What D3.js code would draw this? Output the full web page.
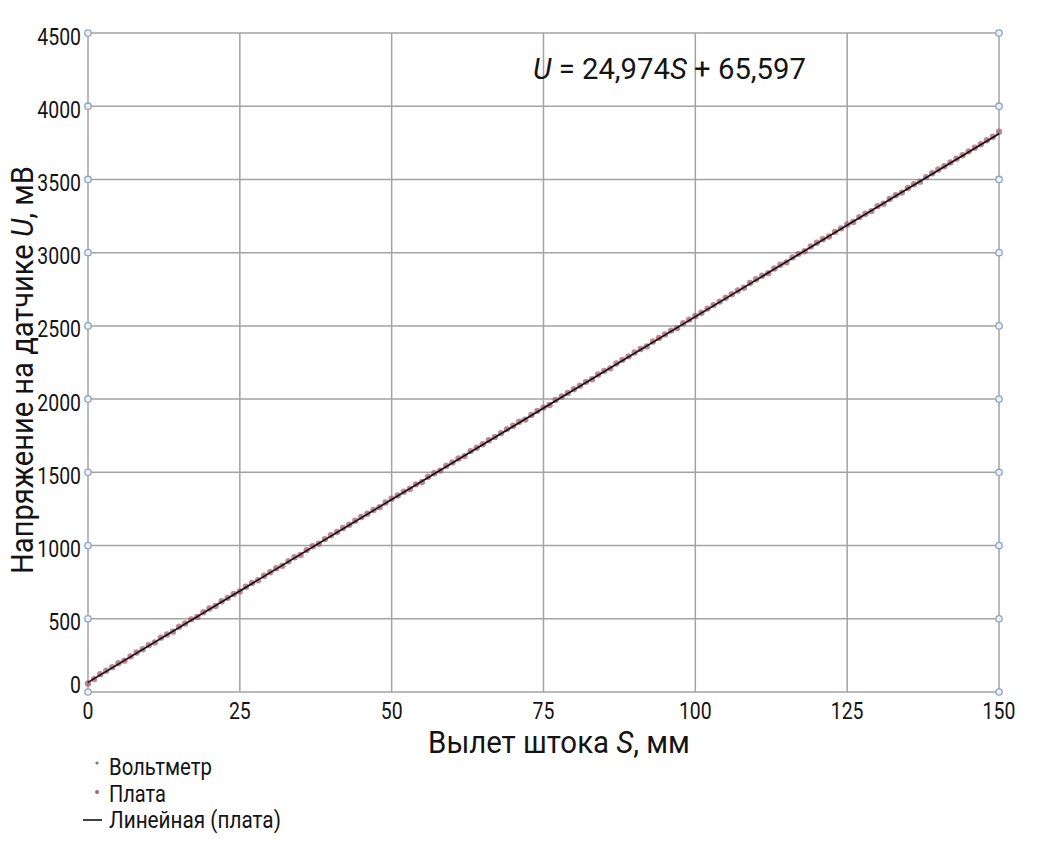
<!DOCTYPE html>
<html><head><meta charset="utf-8">
<script src="https://cdn.jsdelivr.net/npm/d3@7/dist/d3.min.js"></script>
<style>
body{margin:0;background:#fff;}
text{font-family:"Roboto","Liberation Sans",sans-serif;fill:#141414;}
</style></head><body>
<svg id="c" width="1047" height="847"></svg>
<script>
const S = [0,1,2,3,4,5,6,7,8,9,10,11,12,13,14,15,16,17,18,19,20,21,22,23,24,25,26,27,28,29,30,31,32,33,34,35,36,37,38,39,40,41,42,43,44,45,46,47,48,49,50,51,52,53,54,55,56,57,58,59,60,61,62,63,64,65,66,67,68,69,70,71,72,73,74,75,76,77,78,79,80,81,82,83,84,85,86,87,88,89,90,91,92,93,94,95,96,97,98,99,100,101,102,103,104,105,106,107,108,109,110,111,112,113,114,115,116,117,118,119,120,121,122,123,124,125,126,127,128,129,130,131,132,133,134,135,136,137,138,139,140,141,142,143,144,145,146,147,148,149,150];
const plata = [58,88,122,145,170,196,214,243,270,292,
320,338,371,393,412,446,468,496,512,545,
570,588,620,643,670,687,719,745,763,794,
818,845,862,893,920,936,969,995,1012,1044,
1070,1093,1120,1142,1170,1195,1217,1243,1262,1294,
1320,1342,1368,1386,1418,1434,1470,1494,1512,1545,
1568,1594,1611,1645,1668,1692,1719,1742,1768,1795,
1818,1845,1860,1892,1920,1942,1960,1994,2018,2042,
2068,2092,2118,2136,2168,2193,2210,2243,2268,2292,
2318,2342,2360,2393,2418,2442,2468,2485,2518,2543,
2568,2590,2618,2642,2666,2692,2716,2742,2760,2793,
2818,2842,2860,2892,2917,2934,2968,2992,3010,3042,
3068,3092,3110,3142,3166,3192,3210,3243,3266,3284,
3318,3334,3366,3392,3410,3442,3467,3485,3516,3542,
3568,3590,3616,3642,3665,3692,3716,3740,3768,3792,3826];
const voltmeter = [62,92,118,142,167,193,218,241,267,291,
317,341,367,391,415,442,466,492,515,541,
566,591,617,641,667,690,716,741,766,791,
816,841,865,891,916,940,966,991,1015,1041,
1066,1091,1116,1141,1166,1191,1216,1241,1265,1291,
1316,1340,1365,1390,1415,1440,1466,1491,1515,1541,
1565,1591,1615,1641,1665,1690,1716,1740,1765,1791,
1815,1840,1864,1890,1915,1940,1964,1990,2015,2040,
2065,2090,2115,2139,2165,2190,2214,2240,2265,2290,
2315,2340,2364,2390,2415,2440,2465,2489,2515,2540,
2565,2589,2615,2640,2664,2690,2714,2740,2764,2790,
2814,2840,2864,2890,2914,2939,2964,2990,3014,3040,
3064,3090,3114,3140,3164,3190,3214,3240,3264,3289,
3314,3339,3364,3390,3414,3440,3464,3489,3514,3540,
3564,3589,3614,3640,3664,3690,3714,3739,3764,3790,3815];
const xTicks = [0,25,50,75,100,125,150];
const yTicks = [0,500,1000,1500,2000,2500,3000,3500,4000,4500];
const trendSlope = 24.974, trendIntercept = 65.597;
const legendLabels = ["Вольтметр","Плата","Линейная (плата)"];

const svg = d3.select("#c");
const x = d3.scaleLinear().domain([0,150]).range([88,999]);
const y = d3.scaleLinear().domain([0,4500]).range([692,33]);
const grid = "#a3a3a3";

const g = svg.append("g");
g.selectAll("line.v").data(xTicks).join("line")
  .attr("x1",d=>x(d)).attr("x2",d=>x(d)).attr("y1",y(4500)).attr("y2",y(0))
  .attr("stroke",grid).attr("stroke-width",1.5);
g.selectAll("line.h").data(yTicks).join("line")
  .attr("x1",x(0)).attr("x2",x(150)).attr("y1",d=>y(d)).attr("y2",d=>y(d))
  .attr("stroke",grid).attr("stroke-width",1.5);

const pts = S.map((s,i)=>({s, p:plata[i], v:voltmeter[i]}));
g.selectAll("circle.p").data(pts).join("circle")
  .attr("cx",d=>x(d.s)).attr("cy",d=>y(d.p)).attr("r",3.2)
  .attr("fill","#a85565").attr("fill-opacity",0.7);
g.selectAll("circle.vm").data(pts).join("circle")
  .attr("cx",d=>x(d.s)).attr("cy",d=>y(d.v)).attr("r",1.3)
  .attr("fill","#6a7890").attr("fill-opacity",0.8);

g.append("line")
  .attr("x1",x(0)).attr("y1",y(trendIntercept))
  .attr("x2",x(150)).attr("y2",y(trendIntercept+trendSlope*150))
  .attr("stroke","#111").attr("stroke-width",1.6);

const mk = [];
yTicks.forEach(t=>{mk.push([0,t]);mk.push([150,t]);});
g.selectAll("circle.m").data(mk).join("circle")
  .attr("cx",d=>x(d[0])).attr("cy",d=>y(d[1])).attr("r",3.2)
  .attr("fill","#eef2f7").attr("stroke","#8ea3bd").attr("stroke-width",1.3);

function fit(sel, target){
  const w = sel.node().getComputedTextLength();
  sel.attr("transform", sel.attr("data-t") + ` scale(${target/w},1)`);
}
const SX = 0.81;
svg.selectAll("text.yt").data(yTicks).join("text")
  .attr("transform",d=>`translate(81,${d===0? y(d)+1 : y(d)+11.5}) scale(${SX},1)`)
  .attr("text-anchor","end").attr("font-size",24).text(d=>d);
svg.selectAll("text.xt").data(xTicks).join("text")
  .attr("transform",d=>`translate(${x(d)},719) scale(${SX},1)`)
  .attr("text-anchor","middle").attr("font-size",24).text(d=>d);

const xt = svg.append("text").attr("data-t","translate(559,753)").attr("text-anchor","middle").attr("font-size",31);
xt.append("tspan").text("Вылет штока ");
xt.append("tspan").attr("font-style","italic").text("S");
xt.append("tspan").text(", мм");
fit(xt, 262);

const yt = svg.append("text").attr("data-t","translate(33,370) rotate(-90)").attr("text-anchor","middle").attr("font-size",31);
yt.append("tspan").text("Напряжение на датчике ");
yt.append("tspan").attr("font-style","italic").text("U");
yt.append("tspan").text(", мВ");
fit(yt, 408);

const eq = svg.append("text").attr("data-t","translate(533,79)").attr("font-size",30);
eq.append("tspan").attr("font-style","italic").text("U");
eq.append("tspan").text(" = 24,974");
eq.append("tspan").attr("font-style","italic").text("S");
eq.append("tspan").text(" + 65,597");
fit(eq, 273);

const lb = [775,802,828];
const lw = [103,57,172];
svg.append("circle").attr("cx",97).attr("cy",763).attr("r",1.6).attr("fill","#6a7890");
svg.append("circle").attr("cx",97).attr("cy",792).attr("r",2).attr("fill","#b06070");
svg.append("line").attr("x1",83).attr("x2",102).attr("y1",820).attr("y2",820).attr("stroke","#111").attr("stroke-width",1.6);
svg.selectAll("text.lg").data(legendLabels).join("text")
  .attr("data-t",(d,i)=>`translate(109,${lb[i]})`)
  .attr("font-size",24).text(d=>d)
  .each(function(d,i){ fit(d3.select(this), lw[i]); });
</script></body></html>
